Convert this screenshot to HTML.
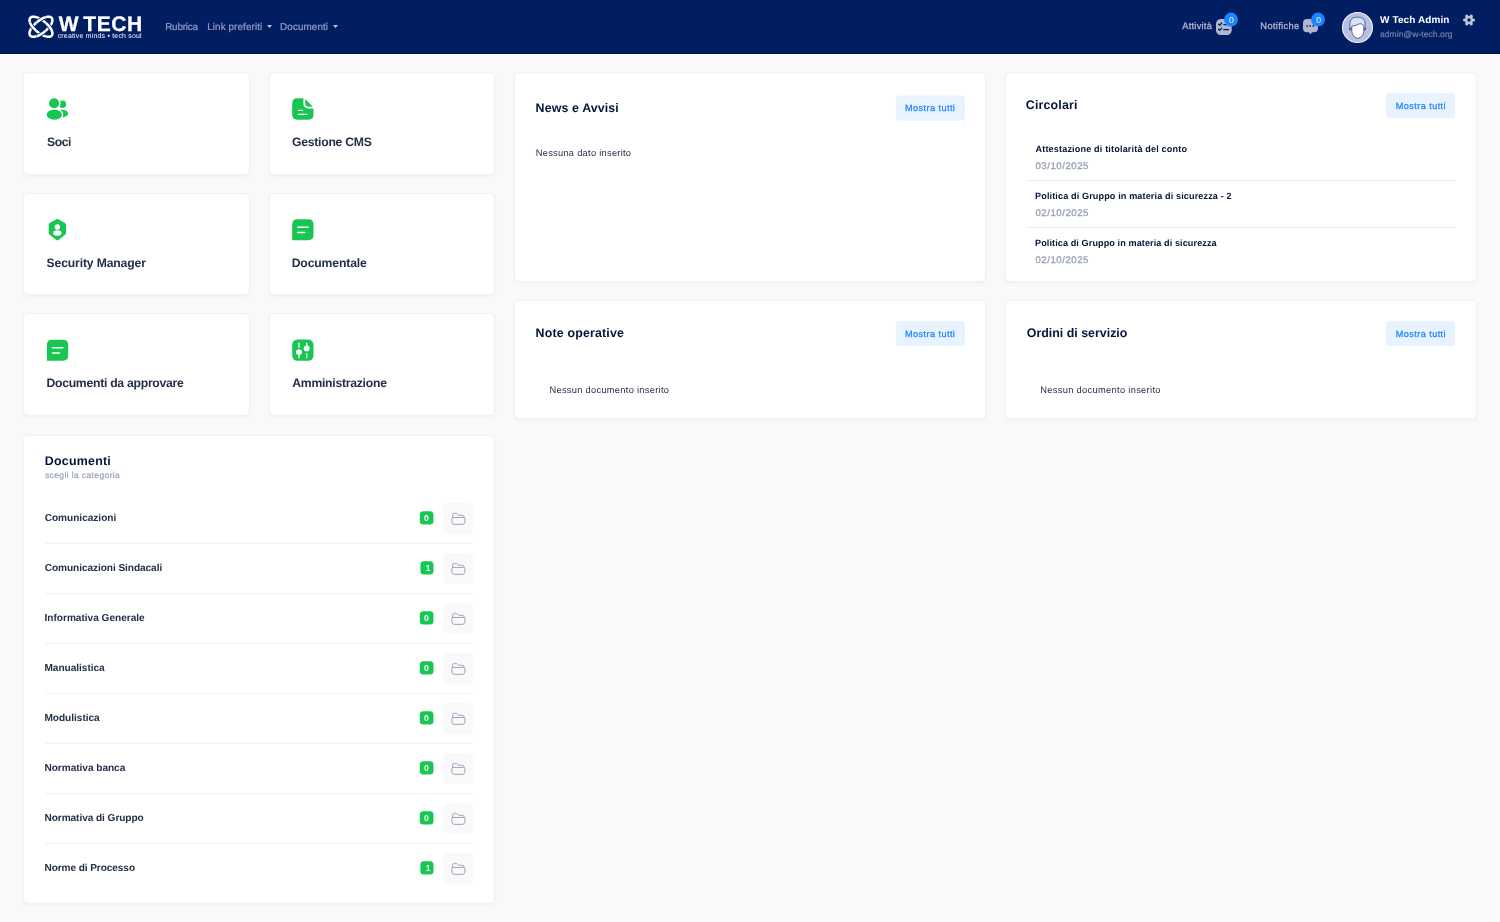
<!DOCTYPE html>
<html lang="it">
<head>
<meta charset="utf-8">
<title>W Tech - Dashboard</title>
<style>
*{box-sizing:border-box;margin:0;padding:0}
html,body{width:1500px;height:922px;overflow:hidden}
body{text-rendering:geometricPrecision;background:#f9f9f9;font-family:"Liberation Sans",sans-serif;color:#252f4a;position:relative}
.abs{position:absolute}
.t{position:absolute;white-space:nowrap;line-height:1}
#nav{position:absolute;left:0;top:0;width:1500px;height:54px;background:#011e63;border-bottom:2px solid #00135b;box-shadow:0 1px 0 #fff}
.card{position:absolute;background:#fff;border:1px solid #f1f1f4;border-radius:5px;box-shadow:0 2px 3px rgba(0,0,0,.03)}
.bdgt{position:absolute;width:13.7px;height:14px;color:#fff;font-size:9.2px;font-weight:400;-webkit-text-stroke:0.25px #fff;text-align:center;line-height:14px}
</style>
</head>
<body>
<div id="nav"></div>
<svg class="abs" style="left:26px;top:13px" width="30" height="28" viewBox="26 13 30 28" fill="none" stroke="#fff" stroke-width="2.55" stroke-linejoin="round"><defs><clipPath id="ctb"><rect x="36.6" y="13" width="8.7" height="28"/></clipPath><clipPath id="clr"><path d="M26 22.4H36.4V31.1H26ZM45.5 22.4H56V31.1H45.5Z"/></clipPath></defs><path d="M51.68 35.56L51.28 35.96L50.82 36.28L50.29 36.52L49.69 36.69L49.03 36.78L48.31 36.80L47.54 36.73L46.71 36.60L45.85 36.38L44.95 36.10L44.01 35.74L43.05 35.31L42.07 34.82L41.09 34.26L40.09 33.65L39.09 32.97L38.10 32.24L37.09 31.45L36.11 30.61L35.21 29.78L34.35 28.93L33.55 28.08L32.82 27.21L32.14 26.35L31.54 25.49L31.01 24.65L30.55 23.82L30.17 23.01L29.88 22.23L29.67 21.48L29.54 20.77L29.50 20.11L29.55 19.49L29.68 18.92L29.91 18.41L30.22 17.94L30.62 17.54L31.08 17.22L31.61 16.98L32.21 16.81L32.87 16.72L33.59 16.70L34.36 16.77L35.19 16.90L36.05 17.12L36.95 17.40L37.89 17.76L38.85 18.19L39.83 18.68L40.81 19.24L41.81 19.85L42.81 20.53L43.80 21.26L44.81 22.05L45.79 22.89L46.69 23.72L47.55 24.57L48.35 25.42L49.08 26.29L49.76 27.15L50.36 28.01L50.89 28.85L51.35 29.68L51.73 30.49L52.02 31.27L52.23 32.02L52.36 32.73L52.40 33.39L52.35 34.01L52.22 34.58L51.99 35.09Z"/><path d="M51.68 17.94L51.99 18.41L52.22 18.92L52.35 19.49L52.40 20.11L52.36 20.77L52.23 21.48L52.02 22.23L51.73 23.01L51.35 23.82L50.89 24.65L50.36 25.49L49.76 26.35L49.08 27.21L48.35 28.08L47.55 28.93L46.69 29.78L45.79 30.61L44.81 31.45L43.80 32.24L42.81 32.97L41.81 33.65L40.81 34.26L39.83 34.82L38.85 35.31L37.89 35.74L36.95 36.10L36.05 36.38L35.19 36.60L34.36 36.73L33.59 36.80L32.87 36.78L32.21 36.69L31.61 36.52L31.08 36.28L30.62 35.96L30.22 35.56L29.91 35.09L29.68 34.58L29.55 34.01L29.50 33.39L29.54 32.73L29.67 32.02L29.88 31.27L30.17 30.49L30.55 29.68L31.01 28.85L31.54 28.01L32.14 27.15L32.82 26.29L33.55 25.42L34.35 24.57L35.21 23.72L36.11 22.89L37.09 22.05L38.10 21.26L39.09 20.53L40.09 19.85L41.09 19.24L42.07 18.68L43.05 18.19L44.01 17.76L44.95 17.40L45.85 17.12L46.71 16.90L47.54 16.77L48.31 16.70L49.03 16.72L49.69 16.81L50.29 16.98L50.82 17.22L51.28 17.54Z"/><g clip-path="url(#ctb)"><path d="M51.68 17.94L51.99 18.41L52.22 18.92L52.35 19.49L52.40 20.11L52.36 20.77L52.23 21.48L52.02 22.23L51.73 23.01L51.35 23.82L50.89 24.65L50.36 25.49L49.76 26.35L49.08 27.21L48.35 28.08L47.55 28.93L46.69 29.78L45.79 30.61L44.81 31.45L43.80 32.24L42.81 32.97L41.81 33.65L40.81 34.26L39.83 34.82L38.85 35.31L37.89 35.74L36.95 36.10L36.05 36.38L35.19 36.60L34.36 36.73L33.59 36.80L32.87 36.78L32.21 36.69L31.61 36.52L31.08 36.28L30.62 35.96L30.22 35.56L29.91 35.09L29.68 34.58L29.55 34.01L29.50 33.39L29.54 32.73L29.67 32.02L29.88 31.27L30.17 30.49L30.55 29.68L31.01 28.85L31.54 28.01L32.14 27.15L32.82 26.29L33.55 25.42L34.35 24.57L35.21 23.72L36.11 22.89L37.09 22.05L38.10 21.26L39.09 20.53L40.09 19.85L41.09 19.24L42.07 18.68L43.05 18.19L44.01 17.76L44.95 17.40L45.85 17.12L46.71 16.90L47.54 16.77L48.31 16.70L49.03 16.72L49.69 16.81L50.29 16.98L50.82 17.22L51.28 17.54Z" stroke="#001d63" stroke-width="4.1"/><path d="M51.68 17.94L51.99 18.41L52.22 18.92L52.35 19.49L52.40 20.11L52.36 20.77L52.23 21.48L52.02 22.23L51.73 23.01L51.35 23.82L50.89 24.65L50.36 25.49L49.76 26.35L49.08 27.21L48.35 28.08L47.55 28.93L46.69 29.78L45.79 30.61L44.81 31.45L43.80 32.24L42.81 32.97L41.81 33.65L40.81 34.26L39.83 34.82L38.85 35.31L37.89 35.74L36.95 36.10L36.05 36.38L35.19 36.60L34.36 36.73L33.59 36.80L32.87 36.78L32.21 36.69L31.61 36.52L31.08 36.28L30.62 35.96L30.22 35.56L29.91 35.09L29.68 34.58L29.55 34.01L29.50 33.39L29.54 32.73L29.67 32.02L29.88 31.27L30.17 30.49L30.55 29.68L31.01 28.85L31.54 28.01L32.14 27.15L32.82 26.29L33.55 25.42L34.35 24.57L35.21 23.72L36.11 22.89L37.09 22.05L38.10 21.26L39.09 20.53L40.09 19.85L41.09 19.24L42.07 18.68L43.05 18.19L44.01 17.76L44.95 17.40L45.85 17.12L46.71 16.90L47.54 16.77L48.31 16.70L49.03 16.72L49.69 16.81L50.29 16.98L50.82 17.22L51.28 17.54Z"/></g><g clip-path="url(#clr)"><path d="M51.68 35.56L51.28 35.96L50.82 36.28L50.29 36.52L49.69 36.69L49.03 36.78L48.31 36.80L47.54 36.73L46.71 36.60L45.85 36.38L44.95 36.10L44.01 35.74L43.05 35.31L42.07 34.82L41.09 34.26L40.09 33.65L39.09 32.97L38.10 32.24L37.09 31.45L36.11 30.61L35.21 29.78L34.35 28.93L33.55 28.08L32.82 27.21L32.14 26.35L31.54 25.49L31.01 24.65L30.55 23.82L30.17 23.01L29.88 22.23L29.67 21.48L29.54 20.77L29.50 20.11L29.55 19.49L29.68 18.92L29.91 18.41L30.22 17.94L30.62 17.54L31.08 17.22L31.61 16.98L32.21 16.81L32.87 16.72L33.59 16.70L34.36 16.77L35.19 16.90L36.05 17.12L36.95 17.40L37.89 17.76L38.85 18.19L39.83 18.68L40.81 19.24L41.81 19.85L42.81 20.53L43.80 21.26L44.81 22.05L45.79 22.89L46.69 23.72L47.55 24.57L48.35 25.42L49.08 26.29L49.76 27.15L50.36 28.01L50.89 28.85L51.35 29.68L51.73 30.49L52.02 31.27L52.23 32.02L52.36 32.73L52.40 33.39L52.35 34.01L52.22 34.58L51.99 35.09Z" stroke="#001d63" stroke-width="4.1"/><path d="M51.68 35.56L51.28 35.96L50.82 36.28L50.29 36.52L49.69 36.69L49.03 36.78L48.31 36.80L47.54 36.73L46.71 36.60L45.85 36.38L44.95 36.10L44.01 35.74L43.05 35.31L42.07 34.82L41.09 34.26L40.09 33.65L39.09 32.97L38.10 32.24L37.09 31.45L36.11 30.61L35.21 29.78L34.35 28.93L33.55 28.08L32.82 27.21L32.14 26.35L31.54 25.49L31.01 24.65L30.55 23.82L30.17 23.01L29.88 22.23L29.67 21.48L29.54 20.77L29.50 20.11L29.55 19.49L29.68 18.92L29.91 18.41L30.22 17.94L30.62 17.54L31.08 17.22L31.61 16.98L32.21 16.81L32.87 16.72L33.59 16.70L34.36 16.77L35.19 16.90L36.05 17.12L36.95 17.40L37.89 17.76L38.85 18.19L39.83 18.68L40.81 19.24L41.81 19.85L42.81 20.53L43.80 21.26L44.81 22.05L45.79 22.89L46.69 23.72L47.55 24.57L48.35 25.42L49.08 26.29L49.76 27.15L50.36 28.01L50.89 28.85L51.35 29.68L51.73 30.49L52.02 31.27L52.23 32.02L52.36 32.73L52.40 33.39L52.35 34.01L52.22 34.58L51.99 35.09Z"/></g></svg>
<svg class="abs" style="left:267.05px;top:25.0px" width="5" height="3" viewBox="0 0 5 3"><path d="M0.1 0H4.9L2.5 2.9Z" fill="#c6cade"/></svg>
<svg class="abs" style="left:332.6px;top:25.0px" width="5" height="3" viewBox="0 0 5 3"><path d="M0.1 0H4.9L2.5 2.9Z" fill="#c6cade"/></svg>
<svg class="abs" style="left:1216px;top:18.5px" width="15.7" height="16.2" viewBox="0 0 15.7 16.2"><rect x="0" y="0" width="15.7" height="16.2" rx="5" fill="#b3b7ce"/><g stroke="#001d63" stroke-width="1.3" fill="none" stroke-linecap="round" stroke-linejoin="round"><path d="M2.6 5.2L3.7 6.3L5.6 4.0M2.6 10.3L3.7 11.4L5.6 9.1M7.8 5.6H12.6M7.8 10.7H12.6"/></g></svg>
<svg class="abs" style="left:1303px;top:19.1px" width="15" height="15.6" viewBox="0 0 15 15.6"><path fill="#b3b7ce" d="M4 0H11Q15 0 15 4V9.2Q15 13.2 11 13.2H9.1L7.5 15.3L5.9 13.2H4Q0 13.2 0 9.2V4Q0 0 4 0Z"/><g fill="#011e63"><rect x="3.4" y="6.2" width="1.5" height="1.5" rx="0.3"/><rect x="6.4" y="6.2" width="1.5" height="1.5" rx="0.3"/><rect x="9.5" y="6.2" width="1.5" height="1.5" rx="0.3"/></g></svg>
<svg class="abs" style="left:1223.35px;top:11px" width="16" height="17" viewBox="0 0 16 17"><circle cx="8" cy="8.55" r="6.95" fill="#1b84ff"/></svg>
<svg class="abs" style="left:1310.45px;top:11px" width="16" height="17" viewBox="0 0 16 17"><circle cx="8" cy="8.55" r="6.95" fill="#1b84ff"/></svg>
<svg class="abs" style="left:1342px;top:11.8px" width="31" height="31" viewBox="0 0 31 31"><circle cx="15.5" cy="15.5" r="14.95" fill="#b6c0df" stroke="#f4f6fc" stroke-width="1.1"/><g stroke="#343a8a" stroke-width="0.75" stroke-linejoin="round"><ellipse cx="8.3" cy="17.0" rx="0.8" ry="1.4" fill="#b6c0df"/><ellipse cx="22.7" cy="17.0" rx="0.8" ry="1.4" fill="#b6c0df"/><path d="M7.9 16.6V11.4Q7.9 5.1 15.5 5.1Q23.1 5.1 23.1 11.4V16.6Z" fill="#d5e1f6"/><path d="M9.8 14.1Q13.4 13.8 15.4 12.7Q17.9 11.2 19.6 11.9Q21.6 12.7 21.8 14.6V19.2Q21.7 23.2 18.6 25.3Q15.8 27.4 13.0 25.3Q9.9 23.2 9.8 19.2Z" fill="#fff"/></g></svg>
<svg class="abs" style="left:1462px;top:13.25px" width="14" height="14" viewBox="0 0 14 14"><g fill="#c2c6db"><circle cx="7" cy="7" r="4.1"/><circle cx="11.45" cy="7.00" r="1.6"/><circle cx="9.23" cy="10.85" r="1.6"/><circle cx="4.78" cy="10.85" r="1.6"/><circle cx="2.55" cy="7.00" r="1.6"/><circle cx="4.77" cy="3.15" r="1.6"/><circle cx="9.23" cy="3.15" r="1.6"/></g><circle cx="7" cy="7" r="1.75" fill="#011e63"/></svg>
<div class="card " style="left:23px;top:72px;width:227px;height:103px"></div>
<div class="card " style="left:269px;top:72px;width:226px;height:103px"></div>
<div class="card " style="left:23px;top:193px;width:227px;height:102px"></div>
<div class="card " style="left:269px;top:193px;width:226px;height:102px"></div>
<div class="card " style="left:23px;top:313px;width:227px;height:103px"></div>
<div class="card " style="left:269px;top:313px;width:226px;height:103px"></div>
<div class="card " style="left:23px;top:435px;width:472px;height:469px"></div>
<div class="card " style="left:514px;top:72px;width:472px;height:210px"></div>
<div class="card " style="left:1005px;top:72px;width:472px;height:210px"></div>
<div class="card " style="left:514px;top:300px;width:472px;height:119px"></div>
<div class="card " style="left:1005px;top:300px;width:472px;height:119px"></div>
<svg class="abs" style="left:0;top:0" width="520" height="380" viewBox="0 0 520 380"><g fill="#17c653"><circle cx="62.4" cy="104.3" r="3.75"/><ellipse cx="61.6" cy="113.5" rx="6.6" ry="3.8"/><circle cx="54.1" cy="103.3" r="5.05" stroke="#fff" stroke-width="2.9" paint-order="stroke"/><ellipse cx="54.3" cy="114.7" rx="7.6" ry="5.0" stroke="#fff" stroke-width="2.9" paint-order="stroke"/></g><path fill="#17c653" d="M297.4 98.2H303.4V103.6Q303.4 108.4 308.2 108.4H313.5V114.5Q313.5 119.7 308.3 119.7H297.4Q292.2 119.7 292.2 114.5V103.4Q292.2 98.2 297.4 98.2Z"/><path fill="#17c653" d="M305.2 99.0L312.9 106.8H309.0Q305.2 106.8 305.2 103.0Z"/><path stroke="#fff" stroke-width="1.35" stroke-linecap="round" d="M298.3 110.3H302.4M298.3 114.4H306.7"/><path fill="#17c653" stroke="#17c653" stroke-width="3.8" stroke-linejoin="round" d="M57.35 221.0L64.1 224.7V233.0L57.35 238.4L50.6 233.0V224.7Z"/><circle cx="57.35" cy="227.0" r="2.7" fill="#fff"/><ellipse cx="57.35" cy="232.9" rx="4.2" ry="2.75" fill="#fff"/><path fill="#17c653" d="M297.4 219.3H308.3Q313.5 219.3 313.5 224.5V235.0Q313.5 240.20000000000002 308.3 240.20000000000002H292.2V224.5Q292.2 219.3 297.4 219.3Z"/><path stroke="#fff" stroke-width="1.45" stroke-linecap="round" d="M297.7 227.3H308.2M297.7 232.5H304.8"/><path fill="#17c653" d="M52.1 339.8H63.0Q68.2 339.8 68.2 345.0V355.5Q68.2 360.7 63.0 360.7H46.9V345.0Q46.9 339.8 52.1 339.8Z"/><path stroke="#fff" stroke-width="1.45" stroke-linecap="round" d="M52.4 347.8H62.9M52.4 353.0H59.5"/><rect x="292.2" y="339.6" width="21.3" height="21.1" rx="5.2" fill="#17c653"/><g stroke="#fff" stroke-width="1.4" stroke-linecap="round"><path d="M299.0 343.2V347.3M299.0 352.5V357.6M306.7 343.2V348M306.7 353.6V357.6"/></g><circle cx="299.0" cy="352.1" r="2.95" fill="#fff"/><circle cx="306.7" cy="348.4" r="2.95" fill="#fff"/></svg>
<svg class="abs" style="left:0;top:0" width="1500" height="922" viewBox="0 0 1500 922"><rect x="419.8" y="511.20" width="13.7" height="13.3" rx="3.5" fill="#17c653"/><rect x="442.9" y="503.10" width="30.4" height="30.7" rx="4.6" fill="#f9f9f9"/><g transform="translate(450.9 512.45)" fill="none" stroke="#9da4bb" stroke-width="1.0" stroke-linejoin="round" stroke-linecap="round"><path d="M1.6 5.0V2.9Q1.6 0.9 3.6 0.9H5.0Q5.9 0.9 6.5 1.6L7.6 2.8H11.2Q13.2 2.8 13.3 4.9"/><path d="M2.4 5.0H12.6Q14.4 5.0 14.2 6.8L13.8 10.0Q13.6 11.9 11.6 11.9H3.4Q1.4 11.9 1.2 10.0L0.8 6.8Q0.6 5.0 2.4 5.0Z"/></g><rect x="45.0" y="542.95" width="428.6" height="0.8" fill="#eeeef3"/><rect x="420.4" y="561.20" width="13.1" height="13.3" rx="3.5" fill="#17c653"/><rect x="442.9" y="553.10" width="30.4" height="30.7" rx="4.6" fill="#f9f9f9"/><g transform="translate(450.9 562.45)" fill="none" stroke="#9da4bb" stroke-width="1.0" stroke-linejoin="round" stroke-linecap="round"><path d="M1.6 5.0V2.9Q1.6 0.9 3.6 0.9H5.0Q5.9 0.9 6.5 1.6L7.6 2.8H11.2Q13.2 2.8 13.3 4.9"/><path d="M2.4 5.0H12.6Q14.4 5.0 14.2 6.8L13.8 10.0Q13.6 11.9 11.6 11.9H3.4Q1.4 11.9 1.2 10.0L0.8 6.8Q0.6 5.0 2.4 5.0Z"/></g><rect x="45.0" y="592.95" width="428.6" height="0.8" fill="#eeeef3"/><rect x="419.8" y="611.20" width="13.7" height="13.3" rx="3.5" fill="#17c653"/><rect x="442.9" y="603.10" width="30.4" height="30.7" rx="4.6" fill="#f9f9f9"/><g transform="translate(450.9 612.45)" fill="none" stroke="#9da4bb" stroke-width="1.0" stroke-linejoin="round" stroke-linecap="round"><path d="M1.6 5.0V2.9Q1.6 0.9 3.6 0.9H5.0Q5.9 0.9 6.5 1.6L7.6 2.8H11.2Q13.2 2.8 13.3 4.9"/><path d="M2.4 5.0H12.6Q14.4 5.0 14.2 6.8L13.8 10.0Q13.6 11.9 11.6 11.9H3.4Q1.4 11.9 1.2 10.0L0.8 6.8Q0.6 5.0 2.4 5.0Z"/></g><rect x="45.0" y="642.95" width="428.6" height="0.8" fill="#eeeef3"/><rect x="419.8" y="661.20" width="13.7" height="13.3" rx="3.5" fill="#17c653"/><rect x="442.9" y="653.10" width="30.4" height="30.7" rx="4.6" fill="#f9f9f9"/><g transform="translate(450.9 662.45)" fill="none" stroke="#9da4bb" stroke-width="1.0" stroke-linejoin="round" stroke-linecap="round"><path d="M1.6 5.0V2.9Q1.6 0.9 3.6 0.9H5.0Q5.9 0.9 6.5 1.6L7.6 2.8H11.2Q13.2 2.8 13.3 4.9"/><path d="M2.4 5.0H12.6Q14.4 5.0 14.2 6.8L13.8 10.0Q13.6 11.9 11.6 11.9H3.4Q1.4 11.9 1.2 10.0L0.8 6.8Q0.6 5.0 2.4 5.0Z"/></g><rect x="45.0" y="692.95" width="428.6" height="0.8" fill="#eeeef3"/><rect x="419.8" y="711.20" width="13.7" height="13.3" rx="3.5" fill="#17c653"/><rect x="442.9" y="703.10" width="30.4" height="30.7" rx="4.6" fill="#f9f9f9"/><g transform="translate(450.9 712.45)" fill="none" stroke="#9da4bb" stroke-width="1.0" stroke-linejoin="round" stroke-linecap="round"><path d="M1.6 5.0V2.9Q1.6 0.9 3.6 0.9H5.0Q5.9 0.9 6.5 1.6L7.6 2.8H11.2Q13.2 2.8 13.3 4.9"/><path d="M2.4 5.0H12.6Q14.4 5.0 14.2 6.8L13.8 10.0Q13.6 11.9 11.6 11.9H3.4Q1.4 11.9 1.2 10.0L0.8 6.8Q0.6 5.0 2.4 5.0Z"/></g><rect x="45.0" y="742.95" width="428.6" height="0.8" fill="#eeeef3"/><rect x="419.8" y="761.20" width="13.7" height="13.3" rx="3.5" fill="#17c653"/><rect x="442.9" y="753.10" width="30.4" height="30.7" rx="4.6" fill="#f9f9f9"/><g transform="translate(450.9 762.45)" fill="none" stroke="#9da4bb" stroke-width="1.0" stroke-linejoin="round" stroke-linecap="round"><path d="M1.6 5.0V2.9Q1.6 0.9 3.6 0.9H5.0Q5.9 0.9 6.5 1.6L7.6 2.8H11.2Q13.2 2.8 13.3 4.9"/><path d="M2.4 5.0H12.6Q14.4 5.0 14.2 6.8L13.8 10.0Q13.6 11.9 11.6 11.9H3.4Q1.4 11.9 1.2 10.0L0.8 6.8Q0.6 5.0 2.4 5.0Z"/></g><rect x="45.0" y="792.95" width="428.6" height="0.8" fill="#eeeef3"/><rect x="419.8" y="811.20" width="13.7" height="13.3" rx="3.5" fill="#17c653"/><rect x="442.9" y="803.10" width="30.4" height="30.7" rx="4.6" fill="#f9f9f9"/><g transform="translate(450.9 812.45)" fill="none" stroke="#9da4bb" stroke-width="1.0" stroke-linejoin="round" stroke-linecap="round"><path d="M1.6 5.0V2.9Q1.6 0.9 3.6 0.9H5.0Q5.9 0.9 6.5 1.6L7.6 2.8H11.2Q13.2 2.8 13.3 4.9"/><path d="M2.4 5.0H12.6Q14.4 5.0 14.2 6.8L13.8 10.0Q13.6 11.9 11.6 11.9H3.4Q1.4 11.9 1.2 10.0L0.8 6.8Q0.6 5.0 2.4 5.0Z"/></g><rect x="45.0" y="842.95" width="428.6" height="0.8" fill="#eeeef3"/><rect x="420.4" y="861.20" width="13.1" height="13.3" rx="3.5" fill="#17c653"/><rect x="442.9" y="853.10" width="30.4" height="30.7" rx="4.6" fill="#f9f9f9"/><g transform="translate(450.9 862.45)" fill="none" stroke="#9da4bb" stroke-width="1.0" stroke-linejoin="round" stroke-linecap="round"><path d="M1.6 5.0V2.9Q1.6 0.9 3.6 0.9H5.0Q5.9 0.9 6.5 1.6L7.6 2.8H11.2Q13.2 2.8 13.3 4.9"/><path d="M2.4 5.0H12.6Q14.4 5.0 14.2 6.8L13.8 10.0Q13.6 11.9 11.6 11.9H3.4Q1.4 11.9 1.2 10.0L0.8 6.8Q0.6 5.0 2.4 5.0Z"/></g><rect x="1026.4" y="180.3" width="429.2" height="0.8" fill="#e1e3ea"/><rect x="1026.4" y="227.0" width="429.2" height="0.8" fill="#e1e3ea"/><rect x="895.8" y="95.6" width="69.1" height="25.2" rx="3.6" fill="#e9f3ff"/><rect x="1386.1" y="93.1" width="69.1" height="25.2" rx="3.6" fill="#e9f3ff"/><rect x="895.8" y="321.1" width="69.1" height="25.2" rx="3.6" fill="#e9f3ff"/><rect x="1386.1" y="321.1" width="69.1" height="25.2" rx="3.6" fill="#e9f3ff"/></svg>
<div class="t" style="left:58.80px;top:14px;font-size:21.0px;font-weight:700;color:#ffffff;letter-spacing:0.602px;-webkit-text-stroke:0.3px #fff;word-spacing:-2.4px;">W TECH</div>
<div class="t" style="left:57.64px;top:34px;font-size:6.9px;font-weight:400;color:#ffffff;letter-spacing:0.230px;">creative minds • tech soul</div>
<div class="t" style="left:165.14px;top:23px;font-size:9.9px;font-weight:400;color:#929bc4;letter-spacing:-0.186px;-webkit-text-stroke:0.22px #929bc4;">Rubrica</div>
<div class="t" style="left:207.19px;top:23px;font-size:9.9px;font-weight:400;color:#929bc4;letter-spacing:0.094px;-webkit-text-stroke:0.22px #929bc4;">Link preferiti</div>
<div class="t" style="left:280.11px;top:23px;font-size:9.9px;font-weight:400;color:#929bc4;letter-spacing:0.089px;-webkit-text-stroke:0.22px #929bc4;">Documenti</div>
<div class="t" style="left:1182.24px;top:22px;font-size:9.3px;font-weight:400;color:#b0b5cd;letter-spacing:0.245px;-webkit-text-stroke:0.3px #b0b5cd;">Attività</div>
<div class="t" style="left:1260.37px;top:22px;font-size:9.3px;font-weight:400;color:#b0b5cd;letter-spacing:0.316px;-webkit-text-stroke:0.3px #b0b5cd;">Notifiche</div>
<div class="t" style="left:1379.99px;top:16px;font-size:10.0px;font-weight:700;color:#ffffff;letter-spacing:0.105px;">W Tech Admin</div>
<div class="t" style="left:1379.97px;top:30px;font-size:8.5px;font-weight:400;color:#7580ab;letter-spacing:0.074px;-webkit-text-stroke:0.2px #7580ab;">admin@w-tech.org</div>
<div class="t" style="left:46.93px;top:136px;font-size:12.2px;font-weight:700;color:#252f4a;letter-spacing:-0.408px;">Soci</div>
<div class="t" style="left:291.93px;top:136px;font-size:12.2px;font-weight:700;color:#252f4a;letter-spacing:-0.242px;">Gestione CMS</div>
<div class="t" style="left:46.56px;top:257px;font-size:12.2px;font-weight:700;color:#252f4a;letter-spacing:-0.151px;">Security Manager</div>
<div class="t" style="left:291.67px;top:257px;font-size:12.2px;font-weight:700;color:#252f4a;letter-spacing:-0.135px;">Documentale</div>
<div class="t" style="left:46.46px;top:377px;font-size:12.2px;font-weight:700;color:#252f4a;letter-spacing:-0.263px;">Documenti da approvare</div>
<div class="t" style="left:292.28px;top:377px;font-size:12.2px;font-weight:700;color:#252f4a;letter-spacing:-0.254px;">Amministrazione</div>
<div class="t" style="left:44.74px;top:455px;font-size:12.4px;font-weight:700;color:#071437;letter-spacing:0.252px;">Documenti</div>
<div class="t" style="left:44.97px;top:471px;font-size:8.5px;font-weight:400;color:#9aa1bc;letter-spacing:0.380px;-webkit-text-stroke:0.2px #9aa1bc;">scegli la categoria</div>
<div class="t" style="left:44.71px;top:514px;font-size:10.1px;font-weight:700;color:#252f4a;letter-spacing:-0.021px;">Comunicazioni</div>
<div class="t" style="left:44.71px;top:564px;font-size:10.1px;font-weight:700;color:#252f4a;letter-spacing:-0.063px;">Comunicazioni Sindacali</div>
<div class="t" style="left:44.57px;top:614px;font-size:10.1px;font-weight:700;color:#252f4a;letter-spacing:-0.016px;">Informativa Generale</div>
<div class="t" style="left:44.44px;top:664px;font-size:10.1px;font-weight:700;color:#252f4a;letter-spacing:-0.031px;">Manualistica</div>
<div class="t" style="left:44.44px;top:714px;font-size:10.1px;font-weight:700;color:#252f4a;letter-spacing:-0.027px;">Modulistica</div>
<div class="t" style="left:44.44px;top:764px;font-size:10.1px;font-weight:700;color:#252f4a;letter-spacing:-0.036px;">Normativa banca</div>
<div class="t" style="left:44.44px;top:814px;font-size:10.1px;font-weight:700;color:#252f4a;letter-spacing:-0.061px;">Normativa di Gruppo</div>
<div class="t" style="left:44.44px;top:864px;font-size:10.1px;font-weight:700;color:#252f4a;letter-spacing:-0.086px;">Norme di Processo</div>
<div class="t" style="left:535.61px;top:102px;font-size:12.4px;font-weight:700;color:#071437;letter-spacing:0.119px;">News e Avvisi</div>
<div class="t" style="left:535.74px;top:149px;font-size:9.3px;font-weight:400;color:#252f4a;letter-spacing:0.269px;">Nessuna dato inserito</div>
<div class="t" style="left:1025.83px;top:99px;font-size:12.4px;font-weight:700;color:#071437;letter-spacing:0.158px;">Circolari</div>
<div class="t" style="left:1035.47px;top:145px;font-size:9.1px;font-weight:700;color:#071437;letter-spacing:0.157px;">Attestazione di titolarità del conto</div>
<div class="t" style="left:1035.49px;top:162px;font-size:9.6px;font-weight:400;color:#99a1b7;letter-spacing:0.547px;-webkit-text-stroke:0.32px #99a1b7;">03/10/2025</div>
<div class="t" style="left:1035.06px;top:192px;font-size:9.1px;font-weight:700;color:#071437;letter-spacing:0.121px;">Politica di Gruppo in materia di sicurezza - 2</div>
<div class="t" style="left:1035.49px;top:209px;font-size:9.6px;font-weight:400;color:#99a1b7;letter-spacing:0.548px;-webkit-text-stroke:0.32px #99a1b7;">02/10/2025</div>
<div class="t" style="left:1035.06px;top:239px;font-size:9.1px;font-weight:700;color:#071437;letter-spacing:0.090px;">Politica di Gruppo in materia di sicurezza</div>
<div class="t" style="left:1035.49px;top:256px;font-size:9.6px;font-weight:400;color:#99a1b7;letter-spacing:0.548px;-webkit-text-stroke:0.32px #99a1b7;">02/10/2025</div>
<div class="t" style="left:535.52px;top:327px;font-size:12.4px;font-weight:700;color:#071437;letter-spacing:0.178px;">Note operative</div>
<div class="t" style="left:549.44px;top:386px;font-size:9.3px;font-weight:400;color:#252f4a;letter-spacing:0.285px;">Nessun documento inserito</div>
<div class="t" style="left:1026.78px;top:327px;font-size:12.4px;font-weight:700;color:#071437;letter-spacing:0.003px;">Ordini di servizio</div>
<div class="t" style="left:1040.34px;top:386px;font-size:9.3px;font-weight:400;color:#252f4a;letter-spacing:0.311px;">Nessun documento inserito</div>
<div class="t" style="left:905.10px;top:104px;font-size:9.1px;font-weight:400;color:#1b84ff;letter-spacing:0.437px;-webkit-text-stroke:0.25px #1b84ff;">Mostra tutti</div>
<div class="t" style="left:1395.78px;top:102px;font-size:9.1px;font-weight:400;color:#1b84ff;letter-spacing:0.440px;-webkit-text-stroke:0.25px #1b84ff;">Mostra tutti</div>
<div class="t" style="left:905.10px;top:330px;font-size:9.1px;font-weight:400;color:#1b84ff;letter-spacing:0.437px;-webkit-text-stroke:0.25px #1b84ff;">Mostra tutti</div>
<div class="t" style="left:1395.78px;top:330px;font-size:9.1px;font-weight:400;color:#1b84ff;letter-spacing:0.440px;-webkit-text-stroke:0.25px #1b84ff;">Mostra tutti</div>
<div class="t" style="left:424.10px;top:514px;font-size:8.6px;font-weight:700;color:#ffffff;letter-spacing:0.000px;z-index:3;">0</div>
<div class="t" style="left:425.80px;top:564px;font-size:8.6px;font-weight:700;color:#ffffff;letter-spacing:0.000px;z-index:3;">1</div>
<div class="t" style="left:424.10px;top:614px;font-size:8.6px;font-weight:700;color:#ffffff;letter-spacing:0.000px;z-index:3;">0</div>
<div class="t" style="left:424.10px;top:664px;font-size:8.6px;font-weight:700;color:#ffffff;letter-spacing:0.000px;z-index:3;">0</div>
<div class="t" style="left:424.10px;top:714px;font-size:8.6px;font-weight:700;color:#ffffff;letter-spacing:0.000px;z-index:3;">0</div>
<div class="t" style="left:424.10px;top:764px;font-size:8.6px;font-weight:700;color:#ffffff;letter-spacing:0.000px;z-index:3;">0</div>
<div class="t" style="left:424.10px;top:814px;font-size:8.6px;font-weight:700;color:#ffffff;letter-spacing:0.000px;z-index:3;">0</div>
<div class="t" style="left:425.80px;top:864px;font-size:8.6px;font-weight:700;color:#ffffff;letter-spacing:0.000px;z-index:3;">1</div>
<div class="t" style="left:1229.10px;top:16px;font-size:8.6px;font-weight:400;color:#ffffff;letter-spacing:0.000px;z-index:3;">0</div>
<div class="t" style="left:1316.20px;top:16px;font-size:8.6px;font-weight:400;color:#ffffff;letter-spacing:0.000px;z-index:3;">0</div>
</body>
</html>
